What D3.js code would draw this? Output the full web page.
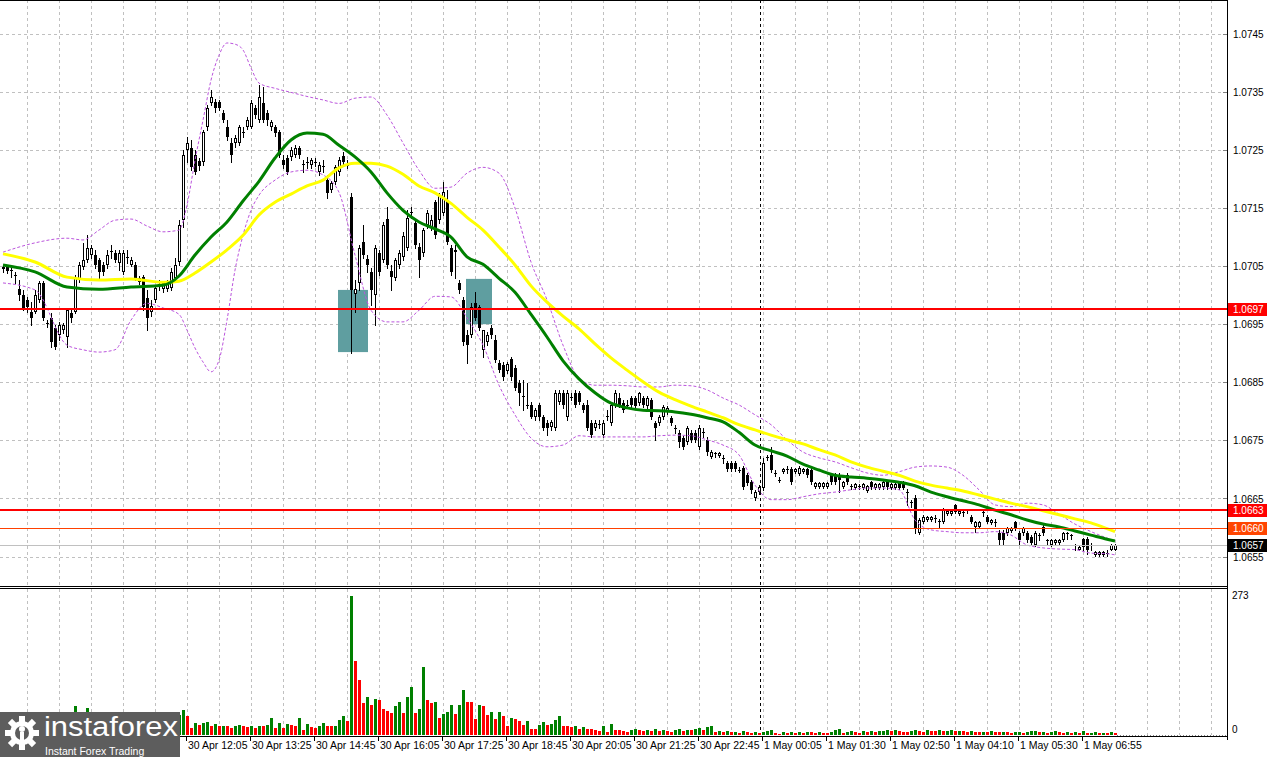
<!DOCTYPE html>
<html><head><meta charset="utf-8">
<script src="https://cdn.jsdelivr.net/npm/d3@7"></script>
<style>body{margin:0;background:#fff;}svg{display:block;}text{font-family:"Liberation Sans",Arial,sans-serif;}</style>
</head><body><svg id="c" width="1268" height="757"></svg>
<script>
// ---------- DATA ----------
const open=[1.07048,1.07048,1.07043,1.07035,1.07011,1.07000,1.06992,1.06971,1.06971,1.06992,
1.07021,1.06952,1.06961,1.06943,1.06931,1.06940,1.06928,1.06969,1.06971,1.07026,
1.07048,1.07060,1.07069,1.07069,1.07060,1.07052,1.07052,1.07074,1.07072,1.07055,
1.07040,1.07064,1.07052,1.07052,1.07029,1.07031,1.06995,1.06971,1.06992,1.07017,
1.07010,1.07010,1.07012,1.07029,1.07057,1.07129,1.07250,1.07253,1.07241,1.07231,
1.07229,1.07289,1.07330,1.07332,1.07332,1.07313,1.07289,1.07262,1.07262,1.07262,
1.07280,1.07289,1.07289,1.07322,1.07301,1.07330,1.07313,1.07289,1.07289,1.07280,
1.07232,1.07236,1.07237,1.07241,1.07253,1.07225,1.07229,1.07224,1.07229,1.07212,
1.07220,1.07198,1.07181,1.07194,1.07212,1.07239,1.07224,1.07169,1.07002,1.07021,
1.07091,1.07062,1.07040,1.07000,1.07072,1.07060,1.07131,1.07041,1.07029,1.07052,
1.07065,1.07081,1.07143,1.07124,1.07083,1.07072,1.07121,1.07117,1.07160,1.07129,
1.07141,1.07164,1.07081,1.07078,1.07021,1.06992,1.06931,1.06931,1.06986,1.06979,
1.06906,1.06919,1.06943,1.06923,1.06883,1.06880,1.06869,1.06890,1.06875,1.06849,
1.06826,1.06811,1.06811,1.06790,1.06811,1.06790,1.06780,1.06773,1.06771,1.06816,
1.06832,1.06790,1.06825,1.06832,1.06832,1.06811,1.06811,1.06780,1.06771,1.06778,
1.06759,1.06790,1.06780,1.06811,1.06823,1.06814,1.06811,1.06823,1.06823,1.06814,
1.06823,1.06809,1.06820,1.06780,1.06780,1.06790,1.06799,1.06789,1.06771,1.06763,
1.06754,1.06747,1.06763,1.06763,1.06739,1.06764,1.06751,1.06721,1.06728,1.06723,
1.06720,1.06711,1.06711,1.06711,1.06699,1.06703,1.06690,1.06678,1.06651,1.06661,
1.06668,1.06721,1.06725,1.06694,1.06682,1.06696,1.06699,1.06701,1.06696,1.06692,
1.06696,1.06701,1.06699,1.06670,1.06670,1.06670,1.06670,1.06690,1.06690,1.06690,
1.06670,1.06690,1.06672,1.06668,1.06672,1.06668,1.06663,1.06678,1.06668,1.06668,
1.06670,1.06678,1.06668,1.06668,1.06678,1.06678,1.06661,1.06644,1.06651,1.06591,
1.06610,1.06613,1.06613,1.06617,1.06611,1.06610,1.06623,1.06623,1.06639,1.06623,
1.06627,1.06630,1.06618,1.06601,1.06601,1.06627,1.06618,1.06608,1.06610,1.06591,
1.06591,1.06591,1.06594,1.06610,1.06591,1.06591,1.06591,1.06584,1.06570,1.06587,
1.06601,1.06579,1.06570,1.06574,1.06574,1.06579,1.06589,1.06587,1.06570,1.06562,
1.06580,1.06580,1.06570,1.06553,1.06553,1.06553,1.06556,1.06562,1.06562];
const high=[1.07052,1.07052,1.07047,1.07040,1.07026,1.07009,1.06997,1.06988,1.07009,1.07024,
1.07024,1.06957,1.06969,1.06948,1.06954,1.06952,1.06978,1.06974,1.07035,1.07057,
1.07090,1.07103,1.07086,1.07078,1.07064,1.07057,1.07078,1.07086,1.07078,1.07078,
1.07078,1.07078,1.07065,1.07057,1.07033,1.07035,1.07009,1.06992,1.07017,1.07026,
1.07024,1.07026,1.07047,1.07064,1.07129,1.07250,1.07272,1.07267,1.07250,1.07236,
1.07284,1.07327,1.07353,1.07337,1.07336,1.07318,1.07301,1.07270,1.07275,1.07293,
1.07289,1.07306,1.07336,1.07327,1.07361,1.07358,1.07318,1.07301,1.07293,1.07284,
1.07241,1.07241,1.07255,1.07258,1.07256,1.07232,1.07237,1.07236,1.07236,1.07229,
1.07232,1.07207,1.07196,1.07224,1.07237,1.07246,1.07232,1.07175,1.07026,1.07086,
1.07121,1.07069,1.07047,1.07086,1.07078,1.07126,1.07151,1.07052,1.07064,1.07078,
1.07108,1.07146,1.07151,1.07129,1.07090,1.07115,1.07146,1.07138,1.07164,1.07176,
1.07194,1.07181,1.07086,1.07086,1.07026,1.06997,1.06940,1.06986,1.07005,1.06983,
1.06940,1.06936,1.06948,1.06931,1.06888,1.06885,1.06885,1.06893,1.06880,1.06854,
1.06854,1.06849,1.06816,1.06806,1.06814,1.06794,1.06785,1.06785,1.06837,1.06837,
1.06837,1.06837,1.06832,1.06837,1.06835,1.06814,1.06820,1.06785,1.06785,1.06785,
1.06785,1.06802,1.06814,1.06837,1.06832,1.06820,1.06820,1.06826,1.06826,1.06833,
1.06826,1.06826,1.06823,1.06783,1.06794,1.06811,1.06809,1.06792,1.06777,1.06768,
1.06758,1.06775,1.06768,1.06768,1.06777,1.06771,1.06756,1.06734,1.06730,1.06730,
1.06725,1.06715,1.06715,1.06715,1.06704,1.06706,1.06694,1.06682,1.06665,1.06673,
1.06720,1.06725,1.06739,1.06699,1.06687,1.06703,1.06706,1.06704,1.06703,1.06706,
1.06703,1.06703,1.06703,1.06678,1.06678,1.06678,1.06678,1.06694,1.06694,1.06694,
1.06680,1.06694,1.06675,1.06677,1.06675,1.06677,1.06673,1.06680,1.06677,1.06677,
1.06680,1.06682,1.06677,1.06677,1.06680,1.06680,1.06666,1.06648,1.06656,1.06617,
1.06622,1.06620,1.06620,1.06622,1.06615,1.06634,1.06630,1.06630,1.06641,1.06630,
1.06632,1.06632,1.06622,1.06611,1.06611,1.06632,1.06622,1.06615,1.06615,1.06596,
1.06596,1.06601,1.06601,1.06611,1.06594,1.06601,1.06594,1.06587,1.06594,1.06591,
1.06604,1.06580,1.06580,1.06580,1.06580,1.06592,1.06592,1.06589,1.06572,1.06568,
1.06582,1.06584,1.06574,1.06560,1.06560,1.06560,1.06562,1.06572,1.06572];
const low=[1.07040,1.07038,1.07031,1.07021,1.06992,1.06974,1.06971,1.06948,1.06969,1.06988,
1.06957,1.06945,1.06911,1.06907,1.06923,1.06935,1.06911,1.06954,1.06969,1.07022,
1.07045,1.07057,1.07064,1.07047,1.07026,1.07035,1.07047,1.07064,1.07057,1.07043,
1.07036,1.07055,1.07050,1.07026,1.07019,1.06974,1.06940,1.06964,1.06988,1.07009,
1.07005,1.07007,1.07009,1.07026,1.07052,1.07117,1.07229,1.07215,1.07208,1.07215,
1.07224,1.07284,1.07327,1.07315,1.07318,1.07298,1.07267,1.07229,1.07255,1.07258,
1.07272,1.07286,1.07287,1.07305,1.07298,1.07298,1.07293,1.07284,1.07274,1.07237,
1.07219,1.07208,1.07232,1.07237,1.07236,1.07212,1.07219,1.07219,1.07222,1.07207,
1.07212,1.07167,1.07177,1.07191,1.07207,1.07225,1.07219,1.06901,1.06971,1.07009,
1.07064,1.07040,1.06983,1.06948,1.07035,1.07057,1.07047,1.07009,1.07026,1.07047,
1.07060,1.07078,1.07133,1.07081,1.07031,1.07067,1.07115,1.07112,1.07098,1.07124,
1.07138,1.07088,1.07035,1.07029,1.07004,1.06914,1.06883,1.06928,1.06957,1.06940,
1.06893,1.06914,1.06926,1.06885,1.06868,1.06854,1.06866,1.06854,1.06837,1.06811,
1.06802,1.06806,1.06789,1.06785,1.06785,1.06768,1.06759,1.06768,1.06768,1.06813,
1.06806,1.06785,1.06820,1.06808,1.06813,1.06799,1.06768,1.06756,1.06768,1.06771,
1.06756,1.06785,1.06777,1.06808,1.06808,1.06799,1.06806,1.06808,1.06806,1.06811,
1.06808,1.06806,1.06787,1.06751,1.06777,1.06787,1.06795,1.06777,1.06763,1.06739,
1.06735,1.06744,1.06747,1.06747,1.06735,1.06756,1.06725,1.06720,1.06721,1.06721,
1.06711,1.06697,1.06697,1.06697,1.06696,1.06666,1.06673,1.06660,1.06648,1.06658,
1.06665,1.06716,1.06696,1.06689,1.06678,1.06694,1.06694,1.06675,1.06694,1.06690,
1.06694,1.06687,1.06675,1.06668,1.06668,1.06668,1.06668,1.06675,1.06675,1.06661,
1.06668,1.06675,1.06666,1.06666,1.06666,1.06666,1.06661,1.06666,1.06666,1.06666,
1.06666,1.06666,1.06666,1.06666,1.06666,1.06666,1.06639,1.06635,1.06591,1.06589,
1.06608,1.06611,1.06611,1.06610,1.06601,1.06608,1.06622,1.06622,1.06625,1.06622,
1.06620,1.06625,1.06608,1.06592,1.06599,1.06620,1.06608,1.06606,1.06603,1.06570,
1.06570,1.06587,1.06592,1.06596,1.06570,1.06587,1.06575,1.06570,1.06568,1.06579,
1.06587,1.06572,1.06568,1.06572,1.06572,1.06577,1.06580,1.06580,1.06562,1.06561,
1.06562,1.06555,1.06562,1.06551,1.06551,1.06551,1.06551,1.06561,1.06561];
const close=[1.07045,1.07041,1.07041,1.07033,1.07000,1.06978,1.06979,1.06961,1.07000,1.07021,
1.06961,1.06950,1.06919,1.06911,1.06948,1.06948,1.06974,1.06961,1.07031,1.07052,
1.07060,1.07081,1.07081,1.07052,1.07040,1.07040,1.07069,1.07076,1.07060,1.07072,
1.07072,1.07065,1.07060,1.07029,1.07022,1.06979,1.06961,1.06981,1.07012,1.07019,
1.07021,1.07022,1.07040,1.07052,1.07121,1.07241,1.07262,1.07220,1.07212,1.07222,
1.07280,1.07322,1.07341,1.07322,1.07322,1.07301,1.07272,1.07241,1.07270,1.07289,
1.07279,1.07301,1.07330,1.07310,1.07341,1.07301,1.07301,1.07298,1.07279,1.07241,
1.07224,1.07212,1.07250,1.07253,1.07241,1.07224,1.07228,1.07232,1.07228,1.07224,
1.07222,1.07176,1.07193,1.07220,1.07232,1.07229,1.07223,1.07009,1.07010,1.07081,
1.07069,1.07052,1.07009,1.07081,1.07040,1.07121,1.07052,1.07031,1.07060,1.07072,
1.07102,1.07133,1.07141,1.07086,1.07060,1.07112,1.07141,1.07129,1.07103,1.07170,
1.07177,1.07091,1.07040,1.07074,1.07009,1.06919,1.06914,1.06979,1.06961,1.06943,
1.06940,1.06931,1.06931,1.06888,1.06871,1.06859,1.06881,1.06859,1.06840,1.06832,
1.06825,1.06810,1.06790,1.06802,1.06790,1.06771,1.06771,1.06782,1.06832,1.06832,
1.06811,1.06832,1.06824,1.06811,1.06816,1.06802,1.06771,1.06759,1.06780,1.06777,
1.06780,1.06792,1.06811,1.06832,1.06811,1.06802,1.06810,1.06811,1.06809,1.06832,
1.06811,1.06823,1.06790,1.06771,1.06790,1.06808,1.06806,1.06780,1.06770,1.06747,
1.06739,1.06771,1.06751,1.06751,1.06771,1.06763,1.06730,1.06730,1.06727,1.06728,
1.06718,1.06701,1.06701,1.06701,1.06698,1.06670,1.06677,1.06665,1.06661,1.06670,
1.06711,1.06720,1.06699,1.06693,1.06681,1.06701,1.06700,1.06678,1.06701,1.06703,
1.06701,1.06690,1.06678,1.06677,1.06677,1.06677,1.06677,1.06678,1.06678,1.06682,
1.06678,1.06678,1.06670,1.06675,1.06670,1.06675,1.06672,1.06670,1.06675,1.06675,
1.06678,1.06670,1.06675,1.06675,1.06668,1.06668,1.06660,1.06642,1.06599,1.06613,
1.06618,1.06618,1.06618,1.06616,1.06610,1.06630,1.06628,1.06628,1.06627,1.06628,
1.06626,1.06629,1.06610,1.06610,1.06610,1.06626,1.06610,1.06613,1.06609,1.06579,
1.06579,1.06599,1.06599,1.06599,1.06579,1.06599,1.06579,1.06574,1.06591,1.06588,
1.06591,1.06578,1.06579,1.06579,1.06579,1.06591,1.06591,1.06586,1.06569,1.06567,
1.06567,1.06562,1.06569,1.06558,1.06558,1.06558,1.06555,1.06570,1.06570];
const volume=[20,18,15,22,25,28,30,24,26,32,28,25,30,27,22,26,30,35,57,40,
38,54,30,28,25,22,26,24,20,18,22,20,25,23,28,30,35,26,24,22,
20,25,28,30,40,50,38,14,24,20,24,25,17,22,17,18,17,13,18,20,
17,16,18,13,18,17,20,34,13,24,14,22,20,17,33,9,22,16,13,17,
24,18,17,18,30,37,28,273,145,109,63,75,58,71,69,52,48,44,56,65,
44,75,95,44,52,134,69,62,65,34,42,46,58,42,58,89,65,64,32,58,
56,40,46,32,46,38,18,34,32,28,20,27,12,11,20,26,20,22,30,38,
18,17,16,18,12,16,12,11,10,8,18,6,22,10,9,8,5,10,11,10,
8,9,7,11,8,10,7,6,9,12,7,10,9,12,14,10,16,17,6,7,
6,7,5,6,4,7,5,4,6,3,6,7,10,3,2,5,4,5,4,5,
4,6,5,4,5,4,3,5,9,12,4,6,7,5,4,7,5,7,6,7,
8,9,7,10,7,6,5,8,10,7,6,9,8,7,9,7,8,10,7,8,
7,6,7,6,5,6,5,7,6,5,6,5,3,5,6,4,5,7,8,5,
6,4,5,8,5,4,5,4,5,4,8,3,4,5,3,4,3,5,4];
const maIdx=[0,8,16,24,32,40,44,48,52,56,60,64,68,72,76,80,84,88,92,96,100,104,108,112,116,120,124,128,132,136,140,144,148,152,156,160,164,168,172,176,180,184,188,192,196,200,204,208,212,216,220,224,228,232,236,240,244,248,252,256,260,264,268,272,276,278];
const maGreen=[1.07052,1.07040,1.07014,1.07010,1.07014,1.07017,1.07033,1.07069,1.07100,1.07126,1.07162,1.07196,1.07236,1.07267,1.07279,1.07277,1.07258,1.07238,1.07212,1.07176,1.07146,1.07126,1.07114,1.07100,1.07066,1.07053,1.07029,1.07005,1.06967,1.06928,1.06887,1.06856,1.06832,1.06814,1.06806,1.06802,1.06801,1.06799,1.06795,1.06789,1.06782,1.06764,1.06742,1.06732,1.06723,1.06709,1.06699,1.06690,1.06687,1.06685,1.06682,1.06678,1.06672,1.06661,1.06653,1.06646,1.06639,1.06630,1.06622,1.06613,1.06606,1.06601,1.06594,1.06587,1.06580,1.06577];
const maYellow=[1.07071,1.07057,1.07031,1.07026,1.07028,1.07022,1.07024,1.07038,1.07057,1.07078,1.07103,1.07138,1.07160,1.07174,1.07188,1.07198,1.07219,1.07227,1.07227,1.07222,1.07208,1.07188,1.07176,1.07158,1.07134,1.07112,1.07083,1.07052,1.07016,1.06988,1.06964,1.06942,1.06916,1.06892,1.06871,1.06851,1.06833,1.06820,1.06809,1.06799,1.06789,1.06777,1.06768,1.06759,1.06751,1.06744,1.06734,1.06725,1.06713,1.06704,1.06697,1.06690,1.06680,1.06673,1.06668,1.06663,1.06656,1.06649,1.06642,1.06636,1.06629,1.06622,1.06615,1.06608,1.06598,1.06593];
const bandIdx=[0,8,16,20,24,28,32,36,40,44,46,48,50,52,54,56,58,60,62,64,68,72,76,80,84,88,92,96,100,104,108,112,116,120,124,128,132,136,140,144,148,152,156,160,164,168,172,176,180,184,188,192,196,200,204,208,212,216,220,224,228,232,236,240,244,248,252,256,260,264,268,272,276,278];
const bandUpper=[1.07074,1.07090,1.07098,1.07095,1.07112,1.07129,1.07131,1.07119,1.07109,1.07112,1.07155,1.07232,1.07301,1.07370,1.07413,1.07434,1.07432,1.07422,1.07391,1.07365,1.07356,1.07349,1.07342,1.07336,1.07330,1.07339,1.07341,1.07310,1.07262,1.07215,1.07184,1.07186,1.07210,1.07220,1.07210,1.07150,1.07057,1.06992,1.06914,1.06857,1.06845,1.06845,1.06844,1.06842,1.06842,1.06845,1.06844,1.06837,1.06823,1.06811,1.06794,1.06777,1.06751,1.06730,1.06720,1.06713,1.06703,1.06694,1.06690,1.06696,1.06704,1.06706,1.06704,1.06690,1.06665,1.06639,1.06636,1.06642,1.06639,1.06623,1.06606,1.06593,1.06582,1.06577];
const bandLower=[1.07021,1.07009,1.06914,1.06906,1.06902,1.06906,1.06957,1.06986,1.06978,1.06967,1.06940,1.06909,1.06885,1.06868,1.06888,1.06957,1.07043,1.07103,1.07146,1.07172,1.07198,1.07212,1.07215,1.07207,1.07177,1.07069,1.06974,1.06954,1.06954,1.06974,1.06998,1.06997,1.06961,1.06914,1.06845,1.06794,1.06754,1.06739,1.06742,1.06758,1.06756,1.06756,1.06756,1.06756,1.06758,1.06759,1.06758,1.06751,1.06742,1.06725,1.06673,1.06648,1.06648,1.06653,1.06658,1.06661,1.06665,1.06668,1.06668,1.06665,1.06613,1.06596,1.06593,1.06591,1.06591,1.06593,1.06587,1.06570,1.06565,1.06563,1.06562,1.06556,1.06555,1.06553];
const priceTicks=[1.0655,1.0665,1.0675,1.0685,1.0695,1.0705,1.0715,1.0725,1.0735,1.0745];
const timeLabelIdx=[46,62,78,94,110,126,142,158,174,190,206,222,238,254,270];
const timeLabels=["30 Apr 12:05","30 Apr 13:25","30 Apr 14:45","30 Apr 16:05","30 Apr 17:25","30 Apr 18:45","30 Apr 20:05","30 Apr 21:25","30 Apr 22:45","1 May 00:05","1 May 01:30","1 May 02:50","1 May 04:10","1 May 05:30","1 May 06:55"];
const levelValues=[1.06976,1.0663,1.0660,1.0657];
const levelLabels=["1.0697","1.0663","1.0660","1.0657"];
const zoneStart=[84,116], zoneEnd=[91,122], zoneHigh=[1.07009,1.07028], zoneLow=[1.06902,1.06950];
const daySeparatorIdx=189.25;
const volumeMax=273;

// ---------- STYLES ----------
const levelStyle=[{c:"#ff0000",w:2,box:"#ff0000"},{c:"#ff0000",w:2,box:"#ff0000"},{c:"#ff4000",w:1,box:"#ff4500"},{c:"#c0c0c0",w:1,box:"#000000"}];
const GRID="#c0c0c0";

const svg=d3.select("#c");
const n=close.length;
const x=d3.scaleLinear().domain([0,278]).range([3,1115]);
const y=d3.scaleLinear().domain([1.0655,1.0745]).range([556.6,33.7]);
const yv=d3.scaleLinear().domain([0,volumeMax]).range([735,596]);
const AX=1227, MAIN_B=586, VOL_T=589, VOL_B=735;

svg.append("rect").attr("width",1268).attr("height",757).attr("fill","#fff");
const defs=svg.append("defs");
defs.append("clipPath").attr("id","mainClip").append("rect").attr("x",0).attr("y",0).attr("width",AX).attr("height",MAIN_B);
defs.append("clipPath").attr("id","volClip").append("rect").attr("x",0).attr("y",VOL_T).attr("width",AX).attr("height",VOL_B-VOL_T+1);

const main=svg.append("g").attr("clip-path","url(#mainClip)");
const vol=svg.append("g").attr("clip-path","url(#volClip)");

// grid
const gridIdx=d3.range(6,306,8).filter(i=>x(i)<AX-2);
[main,vol].forEach((g,k)=>{
  g.selectAll(null).data(gridIdx).join("line")
   .attr("x1",d=>Math.round(x(d))+0.5).attr("x2",d=>Math.round(x(d))+0.5)
   .attr("y1",k?VOL_T:0).attr("y2",k?VOL_B:MAIN_B)
   .attr("stroke",GRID).attr("stroke-dasharray","3,3").attr("stroke-width",1);
});
main.selectAll(null).data(priceTicks).join("line")
  .attr("x1",0).attr("x2",AX).attr("y1",d=>Math.round(y(d))+0.5).attr("y2",d=>Math.round(y(d))+0.5)
  .attr("stroke",GRID).attr("stroke-dasharray","3,3");

// zones
main.selectAll(null).data(zoneStart).join("rect")
  .attr("x",(d,i)=>x(d)-1).attr("width",(d,i)=>x(zoneEnd[i])-x(d)+2)
  .attr("y",(d,i)=>y(zoneHigh[i])).attr("height",(d,i)=>y(zoneLow[i])-y(zoneHigh[i]))
  .attr("fill","#5f9ea0");

// day separator
[main,vol].forEach((g,k)=>{
  g.append("line").attr("x1",Math.round(x(daySeparatorIdx))+0.5).attr("x2",Math.round(x(daySeparatorIdx))+0.5)
   .attr("y1",k?VOL_T:0).attr("y2",k?VOL_B:MAIN_B).attr("stroke","#000").attr("stroke-dasharray","3,3");
});

// candles
const cg=main.append("g").attr("shape-rendering","crispEdges");
for(let i=0;i<n;i++){
  const cx=Math.round(x(i));
  const yh=Math.round(y(high[i])), yl=Math.round(y(low[i]));
  cg.append("line").attr("x1",cx+0.5).attr("x2",cx+0.5).attr("y1",yh).attr("y2",yl+1).attr("stroke","#000");
  const yo=Math.round(y(open[i])), yc=Math.round(y(close[i]));
  const top=Math.min(yo,yc), bot=Math.max(yo,yc);
  const bull=close[i]>=open[i];
  if(bot-top<=1){
    cg.append("rect").attr("x",cx-1).attr("y",top).attr("width",3).attr("height",Math.max(1,bot-top)).attr("fill","#000");
  } else {
    cg.append("rect").attr("x",cx-0.5).attr("y",top+0.5).attr("width",2).attr("height",bot-top-1)
      .attr("fill",bull?"#fff":"#000").attr("stroke","#000").attr("stroke-width",1);
  }
}

// bands & moving averages
const lineOf=(idx)=>d3.line().x((d,i)=>x(idx[i])).y(d=>y(d)).curve(d3.curveMonotoneX);
[bandUpper,bandLower].forEach(arr=>{
  main.append("path").attr("d",lineOf(bandIdx)(arr)).attr("fill","none")
    .attr("stroke","#bb55dd").attr("stroke-width",1).attr("stroke-dasharray","3,2");
});
main.append("path").attr("d",lineOf(maIdx)(maYellow)).attr("fill","none").attr("stroke","#ffff00").attr("stroke-width",3);
main.append("path").attr("d",lineOf(maIdx)(maGreen)).attr("fill","none").attr("stroke","#008000").attr("stroke-width",3);

// level lines
levelValues.forEach((v,k)=>{
  const yy=Math.round(y(v))+(levelStyle[k].w%2?0.5:0);
  main.append("line").attr("x1",0).attr("x2",AX).attr("y1",yy).attr("y2",yy)
    .attr("stroke",levelStyle[k].c).attr("stroke-width",levelStyle[k].w);
});

// volume bars
const vg=vol.append("g").attr("shape-rendering","crispEdges");
for(let i=0;i<n;i++){
  const cx=Math.round(x(i));
  const up=i===0?true:volume[i]>volume[i-1];
  const t=Math.round(yv(volume[i]));
  vg.append("rect").attr("x",cx-1).attr("y",t).attr("width",3).attr("height",Math.max(1,VOL_B-t))
    .attr("fill",up?"#008000":"#ff0000");
}
vol.append("line").attr("x1",x(n)-2).attr("x2",AX).attr("y1",VOL_B+0.5).attr("y2",VOL_B+0.5).attr("stroke","#808080").attr("stroke-dasharray","1,2");

// frames
const fr=svg.append("g").attr("shape-rendering","crispEdges").attr("stroke","#000").attr("stroke-width",1);
fr.append("line").attr("x1",0).attr("x2",AX).attr("y1",0.5).attr("y2",0.5);
fr.append("line").attr("x1",0).attr("x2",AX).attr("y1",MAIN_B+0.5).attr("y2",MAIN_B+0.5);
fr.append("line").attr("x1",0).attr("x2",AX).attr("y1",VOL_T-0.5).attr("y2",VOL_T-0.5);
fr.append("line").attr("x1",AX+0.5).attr("x2",AX+0.5).attr("y1",0).attr("y2",740);
fr.append("line").attr("x1",0).attr("x2",AX).attr("y1",VOL_B+1.5).attr("y2",VOL_B+1.5);

// price axis
const ax=svg.append("g");
ax.selectAll(null).data(priceTicks).join("line").attr("x1",AX-4).attr("x2",AX).attr("y1",d=>Math.round(y(d))+0.5).attr("y2",d=>Math.round(y(d))+0.5).attr("stroke","#808080");
ax.selectAll(null).data(priceTicks).join("text").attr("x",AX+6).attr("y",d=>y(d)+4).attr("font-size",10).attr("fill","#000").text(d=>d.toFixed(4));
levelValues.forEach((v,k)=>{
  const yy=y(v);
  ax.append("rect").attr("x",AX+1).attr("y",Math.round(yy)-6).attr("width",39).attr("height",13).attr("fill",levelStyle[k].box);
  ax.append("text").attr("x",AX+6).attr("y",yy+4).attr("font-size",10).attr("fill","#fff").text(levelLabels[k]);
});
ax.append("text").attr("x",AX+5).attr("y",yv(volumeMax)+3).attr("font-size",10).text(String(volumeMax));
ax.append("text").attr("x",AX+5).attr("y",yv(0)-2).attr("font-size",10).text("0");

// time axis
const tg=svg.append("g");
tg.selectAll(null).data(timeLabelIdx).join("line").attr("x1",d=>Math.round(x(d))-0.5).attr("x2",d=>Math.round(x(d))-0.5).attr("y1",VOL_B+1).attr("y2",VOL_B+6).attr("stroke","#000");
tg.selectAll(null).data(timeLabelIdx).join("text").attr("x",d=>x(d)+1).attr("y",749).attr("font-size",10.5).attr("fill","#000").text((d,i)=>timeLabels[i]);

// logo
const lg=svg.append("g");
lg.append("rect").attr("x",0).attr("y",712).attr("width",180).attr("height",45).attr("fill","#5d5d5d");
const gx=22,gy=733;
for(let a=0;a<8;a++){
  lg.append("rect").attr("x",gx-3).attr("y",gy-17).attr("width",6).attr("height",8).attr("fill","#fff").attr("transform",`rotate(${a*45},${gx},${gy})`);
}
lg.append("circle").attr("cx",gx).attr("cy",gy).attr("r",12).attr("fill","#fff");
lg.append("circle").attr("cx",gx).attr("cy",gy).attr("r",7).attr("fill","#5d5d5d");
lg.append("circle").attr("cx",gx).attr("cy",gy-4).attr("r",3).attr("fill","#fff");
lg.append("rect").attr("x",gx-2).attr("y",gy-1).attr("width",4).attr("height",13).attr("fill","#fff");
lg.append("text").attr("x",44).attr("y",736).attr("font-family","Lato,'Open Sans',sans-serif").attr("font-size",27).attr("fill","#fff").attr("font-weight",300).attr("textLength",134).attr("lengthAdjust","spacingAndGlyphs").text("instaforex");
lg.append("text").attr("x",45).attr("y",755).attr("font-family","Lato,'Open Sans',sans-serif").attr("font-size",10.5).attr("fill","#fff").text("Instant Forex Trading");
</script></body></html>
